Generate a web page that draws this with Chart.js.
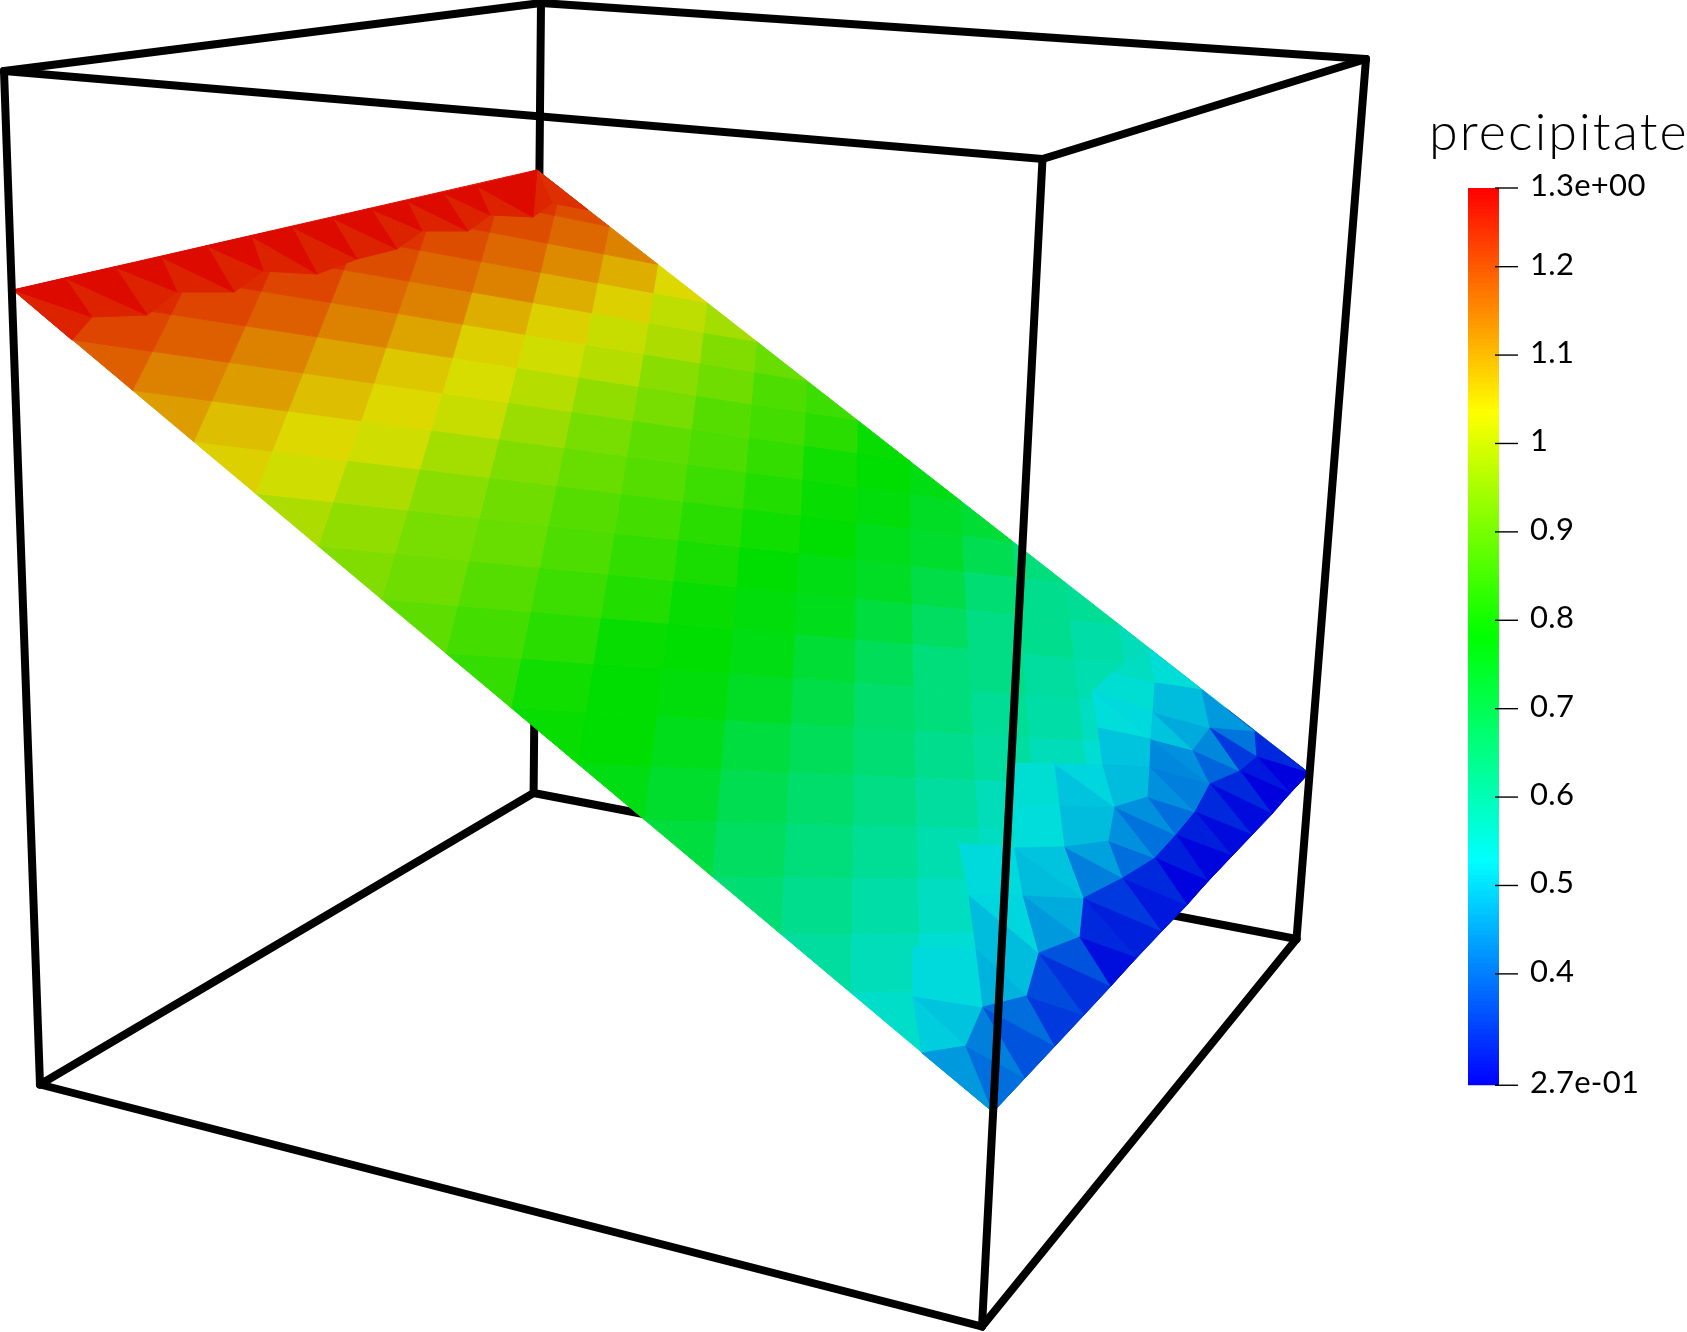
<!DOCTYPE html>
<html><head><meta charset="utf-8">
<style>html,body{margin:0;padding:0;background:#fff}canvas{display:block}</style>
<script src="https://cdn.jsdelivr.net/npm/chart.js@4"></script>
</head><body><canvas id="c" width="1687" height="1332"></canvas>
<script>
// ---- bounding box wireframe (scene coordinates) ----
const boxEdge1X=[541,533.6], boxEdge1Y=[3,793];
const boxEdge2X=[533.6,1296.5], boxEdge2Y=[793,939];
const boxEdge3X=[533.6,40], boxEdge3Y=[793,1084.5];
const frontEdgesX=[[4,40],[1366,1296.5],[1042.5,982]], frontEdgesY=[[71,1084.5],[59,939],[159,1326.6]];
const frontLoopsX=[[4,1042.5,1366],[40,982,1296.5]], frontLoopsY=[[71,159,59],[1084.5,1326.6,939]];
const backTopX=[4,541,1366], backTopY=[71,3,59];
// ---- surface outline ----
const surfaceX=[13,537,1309,993], surfaceY=[290,170,773,1112];
// ---- precipitate per mesh tile; rows run from the red edge to the blue edge ----
const tileValues=[
[1.27,1.27,1.27,1.27,1.27,1.27,1.27],
[1.24,1.24,1.24,1.24,1.23,1.23,1.23],
[1.21,1.21,1.21,1.20,1.20,1.20,1.20],
[1.18,1.18,1.18,1.17,1.17,1.17,1.17],
[1.14,1.14,1.14,1.14,1.14,1.13,1.14],
[1.11,1.11,1.10,1.10,1.09,1.09,1.09],
[1.07,1.07,1.06,1.05,1.05,1.05,1.04],
[1.05,1.04,1.04,1.03,1.02,1.01,1.00],
[1.02,1.02,1.01,0.99,0.99,0.98,0.97],
[0.98,0.98,0.97,0.96,0.95,0.94,0.93],
[0.95,0.94,0.93,0.92,0.92,0.91,0.90],
[0.93,0.92,0.91,0.90,0.89,0.88,0.87],
[0.91,0.90,0.88,0.88,0.87,0.86,0.85],
[0.89,0.88,0.87,0.86,0.85,0.84,0.83],
[0.86,0.85,0.84,0.83,0.82,0.80,0.79],
[0.84,0.83,0.82,0.81,0.80,0.79,0.78],
[0.80,0.79,0.79,0.78,0.78,0.77,0.76],
[0.79,0.78,0.78,0.77,0.76,0.75,0.74],
[0.78,0.77,0.76,0.75,0.74,0.73,0.72],
[0.76,0.75,0.74,0.72,0.71,0.70,0.69],
[0.73,0.71,0.70,0.68,0.67,0.65,0.64],
[0.71,0.69,0.68,0.66,0.64,0.63,0.62],
[0.67,0.66,0.65,0.64,0.63,0.62,0.61],
[0.65,0.64,0.63,0.62,0.61,0.60,0.59],
[0.62,0.61,0.60,0.60,0.59,0.58,0.57],
[0.60,0.59,0.58,0.57,0.57,0.56,0.54],
[0.57,0.56,0.56,0.55,0.54,0.53,0.50],
[0.55,0.54,0.53,0.53,0.52,0.49,0.44],
[0.52,0.52,0.52,0.51,0.48,0.42,0.36],
[0.44,0.42,0.39,0.37,0.35,0.32,0.30],
[0.43,0.40,0.36,0.33,0.31,0.29,0.28]];
// ---- red edge strip ----
const redEdgeX=[13,65,115,161,207,251,292,332,371,407,443,477,510,537];
const redEdgeY=[290,278,267,257,246,236,227,218,209,201,193,186,178,170];
const redInnerX=[72,92,147,177,234,263,317,357,397,422,468,490,533,552,588];
const redInnerY=[340,317,315,292,292,271,274,259,249,231,231,215,217,203,210];
const redDark=[1.278,1.278,1.278,1.278,1.278,1.278,1.278,1.278,1.278,1.278,1.278,1.278];
const redLight=[1.25,1.25,1.25,1.25,1.25,1.25,1.25,1.25,1.25,1.25,1.25,1.25];
// ---- blue corner nodes and triangles ----
const blueX=[1150,1202,1255,1309,1155,1153,1210,1193,1257,1240,1210,1151,1150,1148,1195,1176,1155,1123,1084,1115,1109,1065,1103,1098,1092,1112,1055,1060,1015,1023,1080,1039,1027,983,966,922,913,976,969,993,1025,1055,1084,1111,1137,1162,1187,1208,1232,1252,1272,1290,913,959,1013,1015];
const blueY=[649,690,732,773,683,712,728,750,757,771,784,739,767,797,812,835,858,878,898,807,841,847,765,728,691,673,764,805,848,895,937,953,996,1007,1046,1053,996,948,895,1112,1078,1046,1015,986,957,931,905,881,856,835,814,793,947,843,807,763];
const blueTris=[
[17,16,46,.32],[16,46,47,.277],[16,15,47,.31],[15,47,48,.28],[15,14,48,.31],[14,48,49,.285],[14,10,49,.32],[10,49,50,.285],[10,9,50,.32],[9,50,51,.275],[9,8,51,.30],[8,51,3,.275],[8,3,2,.32],
[17,46,45,.30],[18,17,45,.34],[18,45,44,.31],[30,18,44,.32],[30,44,43,.29],[31,30,43,.37],[31,43,42,.33],[32,31,42,.36],[32,42,41,.34],[33,32,41,.40],[33,41,40,.37],[34,33,40,.42],[34,40,39,.40],[35,34,39,.45],
[9,8,6,.34],[6,8,2,.41],[6,7,9,.43],[7,9,10,.39],[6,1,2,.45],[4,1,6,.49],[4,5,6,.49],[5,6,7,.47],[5,7,11,.50],[11,7,10,.44],[11,10,12,.43],[12,10,14,.42],[12,13,14,.44],[13,14,15,.40],[13,19,15,.44],[19,15,16,.405],[19,20,16,.44],[20,16,17,.40],[20,21,17,.46],[21,17,18,.42],
[22,12,13,.49],[22,13,19,.49],[23,11,12,.50],[23,12,22,.50],[24,5,11,.525],[24,11,23,.53],[25,4,5,.54],[25,5,24,.54],[0,4,1,.535],[25,0,4,.56],
[26,22,19,.52],[26,19,27,.50],[27,19,20,.49],[27,20,21,.49],[28,21,18,.50],[28,29,18,.49],[29,18,30,.47],[29,30,31,.45],[38,29,31,.52],[38,31,37,.49],[37,31,32,.49],[37,33,32,.48],[52,37,33,.525],[52,33,36,.525],[36,33,34,.50],[36,34,35,.51],[53,28,29,.525],[53,29,38,.525],[54,27,21,.53],[54,21,28,.53],[55,26,27,.54],[55,27,54,.54]];
// ---- colour bar ----
const barTitle="precipitate";
const barMin=0.274, barMax=1.289;
const barTickValues=[1.289,1.2,1.1,1,0.9,0.8,0.7,0.6,0.5,0.4,0.274];
const barTickLabels=["1.3e+00","1.2","1.1","1","0.9","0.8","0.7","0.6","0.5","0.4","2.7e-01"];
const mapStops=[[0,0,255],[0,255,255],[0,255,0],[255,255,0],[255,0,0]];

function cmap(v,shade){
  let t=(v-barMin)/(barMax-barMin)*(mapStops.length-1);
  t=Math.max(0,Math.min(mapStops.length-1.0001,t));
  const i=Math.floor(t),f=t-i,a=mapStops[i],b=mapStops[i+1];
  return 'rgb('+a.map((c,k)=>Math.round((c+(b[k]-c)*f)*shade)).join(',')+')';
}
const SHADE=0.865;
const zip=(xs,ys)=>xs.map((x,i)=>({x,y:ys[i]}));
const barY=v=>188+(barMax-v)*884;

// projective map of mesh (row,column) onto the surface outline
const [x0,x1,x2,x3]=surfaceX,[y0,y1,y2,y3]=surfaceY;
const sx=x0-x1+x2-x3,sy=y0-y1+y2-y3,dx1=x1-x2,dy1=y1-y2,dx2=x3-x2,dy2=y3-y2,den=dx1*dy2-dx2*dy1;
const G=(sx*dy2-dx2*sy)/den,H=(dx1*sy-sx*dy1)/den;
function meshPoint(u,v){const s=v/13,t=u/15,w=G*s+H*t+1;
  return {x:((x1-x0+G*x1)*s+(x3-x0+H*x3)*t+x0)/w,y:((y1-y0+G*y1)*s+(y3-y0+H*y3)*t+y0)/w};}
// keep a polygon inside the surface outline
function clip(poly){
  const c=zip(surfaceX,surfaceY);let out=poly;
  for(let i=0;i<4&&out.length;i++){
    const a=c[i],b=c[(i+1)%4],inp=out;out=[];
    const side=p=>(b.x-a.x)*(p.y-a.y)-(b.y-a.y)*(p.x-a.x);
    for(let k=0;k<inp.length;k++){
      const p=inp[k],q=inp[(k+1)%inp.length],sp=side(p),sq=side(q);
      if(sp>=0)out.push(p);
      if(sp*sq<0){const r=sp/(sp-sq);out.push({x:p.x+(q.x-p.x)*r,y:p.y+(q.y-p.y)*r});}
    }
  }
  return out;
}
function shape(pts,color,order,bw){
  return {data:[...pts,pts[0]],borderColor:color,backgroundColor:color,borderWidth:bw===undefined?1:bw,fill:'shape',pointRadius:0,tension:0,order};
}
function stroke(xs,ys,width,order){
  return {data:zip(xs,ys),borderColor:'#000',backgroundColor:'#000',borderWidth:width,fill:false,pointRadius:0,tension:0,order,borderCapStyle:'round',borderJoinStyle:'miter'};
}
const datasets=[];
const LINE=8;
frontEdgesX.forEach((xs,i)=>datasets.push(stroke(xs,frontEdgesY[i],LINE,0)));
frontLoopsX.forEach((xs,i)=>datasets.push(stroke(xs,frontLoopsY[i],LINE,0)));
datasets.push(stroke(backTopX,backTopY,LINE,0));
barTickValues.forEach(v=>datasets.push({data:[{x:1495,y:barY(v)},{x:1518,y:barY(v)}],borderColor:'#000',borderWidth:1.4,pointRadius:0,fill:false,order:0}));
redDark.forEach((v,j)=>{
  const T=i=>({x:redEdgeX[i],y:redEdgeY[i]}),R=i=>({x:redInnerX[i],y:redInnerY[i]});
  datasets.push(shape([T(j),T(j+1),R(j+1)],cmap(v,SHADE),1));
  datasets.push(shape([T(j),R(j),R(j+1)],cmap(redLight[j],SHADE),1));
});
{const T=i=>({x:redEdgeX[i],y:redEdgeY[i]}),R=i=>({x:redInnerX[i],y:redInnerY[i]});
 datasets.push(shape([T(12),T(13),R(12)],cmap(1.278,SHADE),1));
 datasets.push(shape([T(13),R(13),R(12)],cmap(1.245,SHADE),1));
 datasets.push(shape([T(13),R(14),R(13)],cmap(1.235,SHADE),1));}
blueTris.forEach(t=>{
  const P=i=>({x:blueX[i],y:blueY[i]});
  datasets.push(shape([P(t[0]),P(t[1]),P(t[2])],cmap(t[3],SHADE),1));
});
tileValues.forEach((row,k)=>{
  const u=k/2;
  row.forEach((val,n)=>{
    const v=(k%2===0)?2*n+1:2*n;
    const poly=clip([meshPoint(u-.5,v),meshPoint(u,v+1),meshPoint(u+.5,v),meshPoint(u,v-1)]);
    if(poly.length>2)datasets.push(shape(poly,cmap(val,SHADE),2));
  });
});
datasets.push(stroke(boxEdge1X,boxEdge1Y,LINE,3));
datasets.push(stroke(boxEdge2X,boxEdge2Y,LINE,3));
datasets.push(stroke(boxEdge3X,boxEdge3Y,LINE,3));

const canvas=document.getElementById('c');
const g=canvas.getContext('2d');
const grad=g.createLinearGradient(0,barY(barMax),0,barY(barMin));
for(let i=0;i<256;i++){
  const col=cmap(barMax-(barMax-barMin)*(i+.5)/256,1);
  grad.addColorStop(i/256,col);grad.addColorStop((i+1)/256,col);
}
datasets.push(shape(zip([1468,1499,1499,1468],[barY(barMax),barY(barMax),barY(barMin),barY(barMin)]),grad,1,0));

const textPlugin={id:'barText',afterDraw(ch){
  const c=ch.ctx,X=ch.scales.x,Y=ch.scales.y;
  c.save();c.fillStyle='#000';c.textBaseline='alphabetic';c.textAlign='left';
  c.font='300 52px Lato';c.letterSpacing='2.1px';
  c.fillText(barTitle,X.getPixelForValue(1429),Y.getPixelForValue(150));
  c.letterSpacing='0.3px';c.font='400 31px Lato';
  barTickValues.forEach((v,i)=>c.fillText(barTickLabels[i],X.getPixelForValue(1530),Y.getPixelForValue(barY(v)+8)));
  c.restore();
}};
new Chart(canvas,{type:'line',data:{datasets},plugins:[textPlugin],options:{
  responsive:false,animation:false,events:[],
  layout:{padding:0},
  plugins:{legend:{display:false},tooltip:{enabled:false},title:{display:false}},
  scales:{x:{type:'linear',display:false,min:0,max:1687},y:{type:'linear',display:false,reverse:true,min:0,max:1332}}
}});
</script></body></html>
